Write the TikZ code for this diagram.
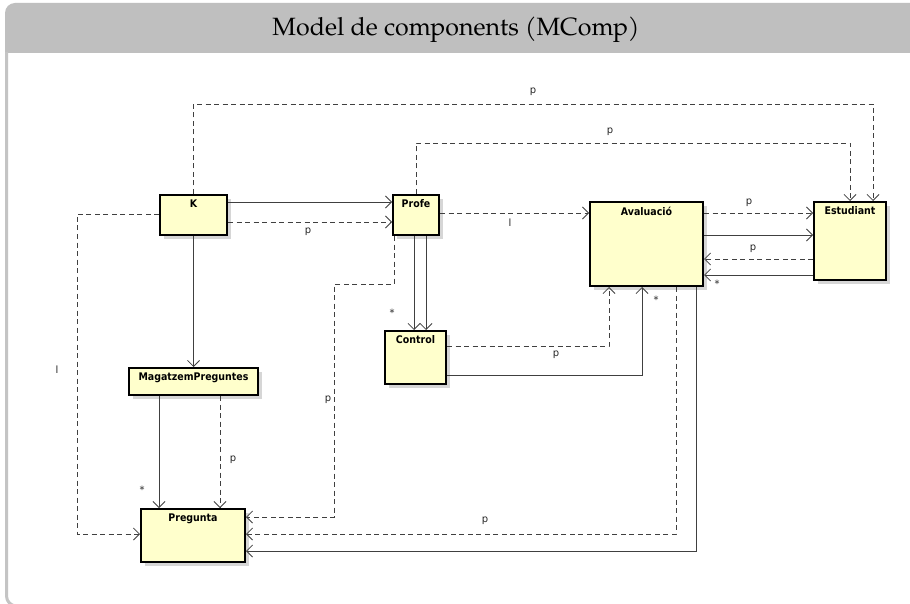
\documentclass[tikz,border=0pt]{standalone}
\usepackage{fontspec}
\setmainfont{DejaVu Sans}
\newfontfamily\titlefont{TeX Gyre Pagella}
\newfontfamily\boxfont{DejaVu Sans Condensed}
\usetikzlibrary{arrows.meta,shadows,calc}
\definecolor{titlegray}{RGB}{191,191,191}
\definecolor{framegray}{RGB}{196,196,196}
\definecolor{boxfill}{RGB}{255,255,204}
\definecolor{shadowgray}{RGB}{214,214,214}
\definecolor{linegray}{RGB}{64,64,64}
\tikzset{
  cls/.style={draw=black, line width=2pt, fill=boxfill, rectangle, inner sep=0pt, anchor=north west,
    drop shadow={shadow xshift=4pt, shadow yshift=-4pt, fill=shadowgray, opacity=1}},
  clsname/.style={font=\boxfont\bfseries\fontsize{10.5}{12}\selectfont, anchor=north, yshift=-5.5pt, inner sep=0pt},
  assoc/.style={draw=linegray, line width=0.8pt, -{Straight Barb[length=6pt,width=12pt,line width=0.8pt]}},
  dep/.style={assoc, dash pattern=on 5pt off 3.5pt},
  lab/.style={font=\fontsize{10}{11}\selectfont, text=black!85, inner sep=0pt},
}
\begin{document}
\begin{tikzpicture}[x=1pt,y=-1pt]
\useasboundingbox (0,0) rectangle (910,604);
% frame
\fill[white] (0,0) rectangle (910,604);
\fill[titlegray] (5,53) [rounded corners=10pt] -- (5,3) -- (940,3) [sharp corners] -- (940,53) -- cycle;
\draw[framegray, line width=3pt, rounded corners=10pt] (6.5,52) -- (6.5,606) -- (940,606);
\node[font=\titlefont\fontsize{25}{28}\selectfont, inner sep=0pt] (title) at (456,30) {Model de components (MComp)};

% classes
\node[cls, minimum width=67pt, minimum height=40pt, label={[clsname]north:K}] (K) at (159,194) {};
\node[cls, minimum width=46pt, minimum height=40pt, label={[clsname]north:Profe}] (Profe) at (392,194) {};
\node[cls, minimum width=113pt, minimum height=84pt, label={[clsname]north:Avaluació}] (Aval) at (589,201) {};
\node[cls, minimum width=72pt, minimum height=78pt, label={[clsname]north:Estudiant}] (Est) at (813,201) {};
\node[cls, minimum width=129pt, minimum height=27pt, label={[clsname]north:MagatzemPreguntes}] (Mag) at (128,367) {};
\node[cls, minimum width=61pt, minimum height=53pt, label={[clsname]north:Control}] (Control) at (384,330) {};
\node[cls, minimum width=104pt, minimum height=53pt, label={[clsname]north:Pregunta}] (Preg) at (140,508) {};

% connectors
\draw[assoc] (K.east |- 0,202) -- (Profe.west |- 0,202);
\draw[dep] (K.east |- 0,222) -- (Profe.west |- 0,222);
\node[lab] (l1) at (308,232) {p};
\draw[dep] (K.north) |- (873,104) -- (Est.north -| 873,0);
\node[lab] (l2) at (533,92) {p};
\draw[dep] (Profe.north) |- (850,143) -- (Est.north -| 850,0);
\node[lab] (l3) at (610,132) {p};
\draw[dep] (Profe.east |- 0,213) -- (Aval.west |- 0,213);
\node[lab] (l4) at (510,223) {l};
\draw[dep] (K.west |- 0,214) -| (77,534) -- (Preg.west |- 0,534);
\node[lab] (l5) at (57,370) {l};
\draw[assoc] (K.south) -- (Mag.north);
\draw[assoc] (Mag.south -| 159,0) -- (Preg.north -| 159,0);
\node[lab] (l6) at (142,490) {*};
\draw[dep] (Mag.south -| 220,0) -- (Preg.north -| 220,0);
\node[lab] (l7) at (233,460) {p};
\draw[dep] (Profe.south -| 394,0) |- (334,284) |- (Preg.east |- 0,517);
\node[lab] (l8) at (328,400) {p};
\draw[assoc] (Profe.south -| 414,0) -- (Control.north -| 414,0);
\draw[assoc] (Profe.south -| 426,0) -- (Control.north -| 426,0);
\node[lab] (l9) at (392,313) {*};
\draw[dep] (Control.east |- 0,346) -| (Aval.south -| 609,0);
\node[lab] (l10) at (556,355) {p};
\draw[assoc] (Control.east |- 0,375) -| (Aval.south -| 642,0);
\node[lab] (l11) at (656,300) {*};
\draw[dep] (Aval.east |- 0,213) -- (Est.west |- 0,213);
\node[lab] (l12) at (749,203) {p};
\draw[assoc] (Aval.east |- 0,235) -- (Est.west |- 0,235);
\draw[dep] (Est.west |- 0,259) -- (Aval.east |- 0,259);
\node[lab] (l13) at (753,249) {p};
\draw[assoc] (Est.west |- 0,275) -- (Aval.east |- 0,275);
\node[lab] (l14) at (717,284) {*};
\draw[dep] (Aval.south -| 676,0) |- (Preg.east |- 0,534);
\node[lab] (l15) at (485,521) {p};
\draw[assoc] (Aval.south -| 696,0) |- (Preg.east |- 0,551);
\end{tikzpicture}
\end{document}
